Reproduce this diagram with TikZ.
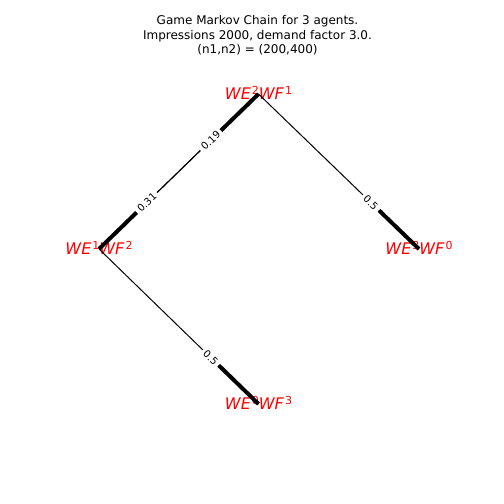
\documentclass[tikz,border=0pt]{standalone}
\usepackage{fontspec}
\setmainfont{DejaVu Sans}
\usepackage{tikz}
\usetikzlibrary{calc}
\definecolor{statered}{RGB}{255,0,0}
\tikzset{
  charttitle/.style={align=center,inner sep=0pt,anchor=north,
    font=\fontsize{12}{14.6}\selectfont},
  statelbl/.style={text=statered,inner sep=0pt,anchor=base,yshift=-5.5pt,
    font=\fontsize{16}{19}\selectfont},
  transline/.style={line width=1pt,color=black},
  transstub/.style={line width=4pt,color=black},
  problbl/.style={fill=white,inner sep=3pt,sloped,
    font=\fontsize{10}{12}\selectfont},
}
\newcommand{\supnum}[1]{\kern1pt\raisebox{5.5pt}{\fontsize{11}{13}\selectfont #1}}
\newcommand{\wewf}[2]{\textit{WE}\supnum{#1}\textit{WF}\supnum{#2}}

\begin{document}
\begin{tikzpicture}[x=1pt,y=-1pt]
\useasboundingbox (0,0) rectangle (504,504);

% ── Title ─────────────────────────────────────────────────────────────────
\node[charttitle] (ttl) at (257.5,15.2)
  {Game Markov Chain for 3 agents.\\ Impressions 2000, demand factor 3.0.\\ (n1,n2) = (200,400)};

% ── States ────────────────────────────────────────────────────────────────
\coordinate (top)    at (258.5,94);
\coordinate (left)   at (99,249);
\coordinate (right)  at (419,249);
\coordinate (bottom) at (258.5,404);

\node[statelbl] (toplbl)    at (top)    {\wewf{2}{1}};
\node[statelbl] (leftlbl)   at (left)   {\wewf{1}{2}};
\node[statelbl] (rightlbl)  at (right)  {\wewf{3}{0}};
\node[statelbl] (bottomlbl) at (bottom) {\wewf{0}{3}};

% ── Transitions (thick end = target) ─────────────────────────────────────
\foreach \a/\b in {left/top, top/left, top/right, left/bottom} {
  \draw[transline] (\a) -- (\b);
  \draw[transstub] ($(\a)!0.75!(\b)$) -- (\b);
}

% ── Probabilities ─────────────────────────────────────────────────────────
\foreach \a/\b/\p in {left/top/0.19, top/left/0.31, top/right/0.5, left/bottom/0.5}
  \path (\a) -- node[problbl,pos=0.7] {\p} (\b);

\end{tikzpicture}
\end{document}
